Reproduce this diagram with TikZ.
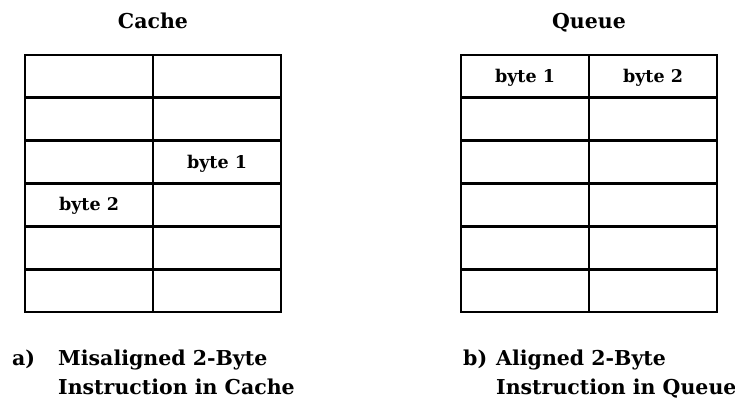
\documentclass[tikz,border=0pt]{standalone}
\usepackage{fontspec}
\setmainfont{DejaVu Serif}
\begin{document}
\begin{tikzpicture}[x=1pt,y=-1pt,
  cell/.style={draw, line width=2.8pt, minimum width=128pt, minimum height=42.83pt,
    inner sep=0pt, outer sep=0pt, anchor=north west},
  heading/.style={font=\fontsize{20.5}{24}\selectfont\bfseries, anchor=base, inner sep=0pt},
  bytelabel/.style={font=\fontsize{17.5}{20}\selectfont\bfseries, anchor=base, inner sep=0pt},
  capline/.style={font=\fontsize{20.5}{24}\selectfont\bfseries, anchor=base west, inner sep=0pt}]
  \useasboundingbox (0,0) rectangle (735,418);

  % headings
  \node[heading] (cachehead) at (153,28) {Cache};
  \node[heading] (queuehead) at (589,28) {Queue};

  % two 6x2 grids of cells
  \foreach \r in {1,...,6}{
    \foreach \c in {1,2}{
      \node[cell] (cache-\r-\c) at ({25+128*(\c-1)},{55+42.83*(\r-1)}) {};
      \node[cell] (queue-\r-\c) at ({461+128*(\c-1)},{55+42.83*(\r-1)}) {};
    }
  }

  % byte labels
  \node[bytelabel] (cbyte1) at ([yshift=-6pt]cache-3-2.center) {byte 1};
  \node[bytelabel] (cbyte2) at ([yshift=-6pt]cache-4-1.center) {byte 2};
  \node[bytelabel] (qbyte1) at ([yshift=-6pt]queue-1-1.center) {byte 1};
  \node[bytelabel] (qbyte2) at ([yshift=-6pt]queue-1-2.center) {byte 2};

  % captions
  \node[capline] (amark) at (12,365) {a)};
  \node[capline] (aline1) at (58,365) {Misaligned 2-Byte};
  \node[capline] (aline2) at (58,394) {Instruction in Cache};
  \node[capline] (bmark) at (463,365) {b)};
  \node[capline] (bline1) at (496,365) {Aligned 2-Byte};
  \node[capline] (bline2) at (496,394) {Instruction in Queue};
\end{tikzpicture}
\end{document}
